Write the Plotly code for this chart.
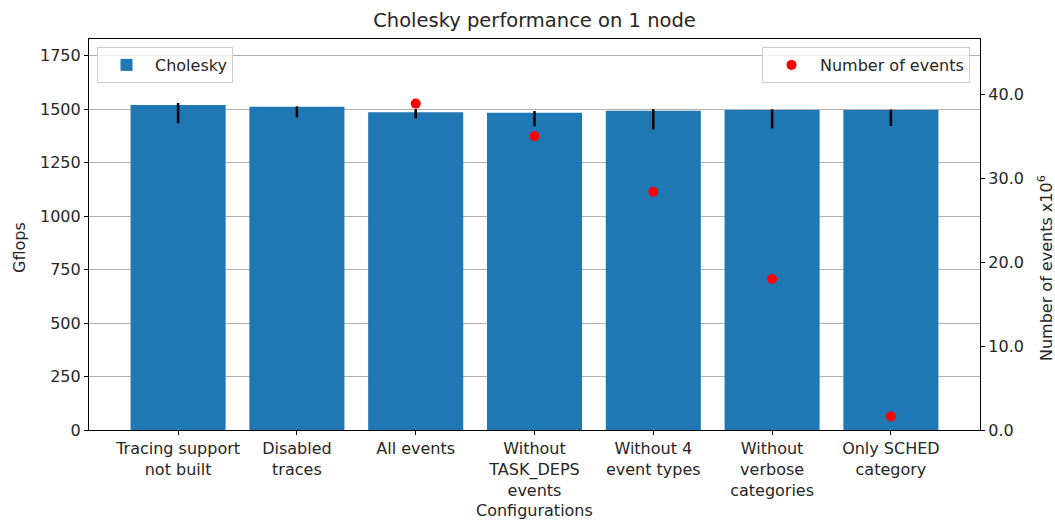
import plotly.graph_objects as go

categories = ["Tracing support<br>not built", "Disabled<br>traces", "All events",
              "Without<br>TASK_DEPS<br>events", "Without 4<br>event types",
              "Without<br>verbose<br>categories", "Only SCHED<br>category"]
gflops = [1519, 1511, 1485, 1483, 1493, 1496, 1496]
err_hi = [1529, 1513, 1500, 1491, 1500, 1499, 1498]
err_lo = [1434, 1461, 1457, 1420, 1405, 1410, 1422]
events_millions = [None, None, 38.9, 35.0, 28.4, 18.0, 1.6]

xpos = list(range(len(categories)))
font = "DejaVu Sans, sans-serif"
txt = "#262626"

W, H = 1055, 520
L, R, T, B = 89, 980, 39, 430  # plot area in pixels


def px_x(x):
    return (x - L) / (R - L)


def px_y(y):
    return (B - y) / (B - T)


fig = go.Figure()
fig.add_trace(go.Bar(
    x=xpos, y=gflops, width=0.8, name="Cholesky",
    marker=dict(color="#1f77b4", line=dict(width=0)),
    error_y=dict(type="data", symmetric=False,
                 array=[h - g for h, g in zip(err_hi, gflops)],
                 arrayminus=[g - l for g, l in zip(gflops, err_lo)],
                 color="black", thickness=2.5, width=0),
    legend="legend",
))
fig.add_trace(go.Scatter(
    x=xpos, y=events_millions, mode="markers", name="Number of events",
    marker=dict(color="red", size=10), yaxis="y2", legend="legend2",
))

axis_common = dict(showline=True, linecolor="black", linewidth=1.2,
                   ticks="outside", ticklen=4, tickcolor="black", zeroline=False,
                   tickfont=dict(size=16))

fig.update_layout(
    width=W, height=H,
    margin=dict(l=L, r=W - R, t=T, b=H - B, autoexpand=False),
    paper_bgcolor="white", plot_bgcolor="white",
    font=dict(family=font, size=16, color=txt),
    title=dict(text="Cholesky performance on 1 node", x=(L + R) / 2 / W,
               xanchor="center", y=1 - 20 / H, yanchor="middle",
               font=dict(size=19.5, color=txt)),
    xaxis=dict(range=[-0.75, 6.75], tickvals=xpos, ticktext=categories,
               mirror=True, showgrid=False, automargin=False, **axis_common),
    yaxis=dict(range=[0, 1828], tickvals=[0, 250, 500, 750, 1000, 1250, 1500, 1750],
               showgrid=True, gridcolor="#b0b0b0", gridwidth=1, automargin=False,
               **axis_common),
    yaxis2=dict(range=[0, 46.6], tickvals=[0, 10, 20, 30, 40], tickformat=".1f",
                overlaying="y", side="right", showgrid=False, automargin=False,
                **axis_common),
    legend=dict(x=px_x(97), y=px_y(47), xanchor="left", yanchor="top",
                bgcolor="rgba(255,255,255,0.8)", bordercolor="#cccccc", borderwidth=1,
                font=dict(size=16), itemwidth=47),
    legend2=dict(x=px_x(970), y=px_y(47), xanchor="right", yanchor="top",
                 bgcolor="rgba(255,255,255,0.8)", bordercolor="#cccccc", borderwidth=1,
                 font=dict(size=16), itemwidth=47),
    showlegend=True,
    annotations=[
        dict(text="Configurations", xref="paper", yref="paper",
             x=px_x((L + R) / 2), y=px_y(511), xanchor="center", yanchor="middle",
             showarrow=False, font=dict(size=16)),
        dict(text="Gflops", xref="paper", yref="paper", textangle=-90,
             x=px_x(19), y=px_y(248), xanchor="center", yanchor="middle",
             showarrow=False, font=dict(size=16)),
        dict(text="Number of events x10<sup>6</sup>", xref="paper", yref="paper",
             textangle=-90, x=px_x(1045), y=px_y(268), xanchor="center",
             yanchor="middle", showarrow=False, font=dict(size=16)),
    ],
)

fig.write_html("out.html", config={"displayModeBar": False},
               post_script="document.body.style.margin='0px';")
